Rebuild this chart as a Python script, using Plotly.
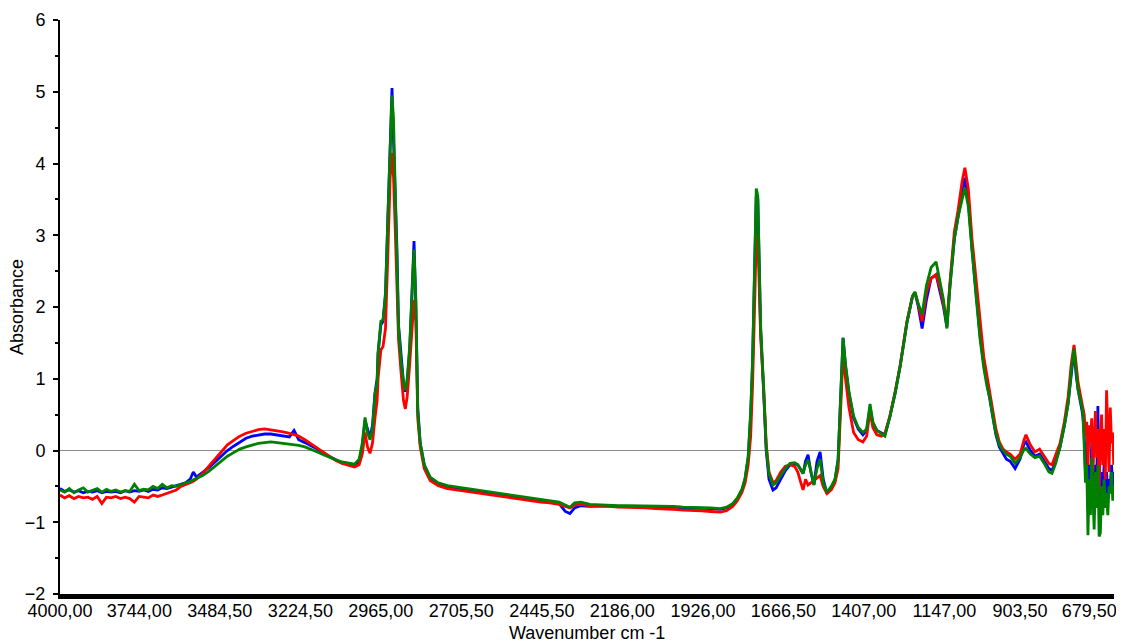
import plotly.graph_objects as go

wavenumber = [4000, 3985, 3970, 3955, 3940, 3925, 3910, 3895, 3880, 3865, 3850, 3835, 3820, 3805, 3790, 3775,
              3760, 3745, 3730, 3715, 3700, 3685, 3670, 3655, 3640, 3625, 3610, 3595, 3580, 3570, 3560, 3540,
              3520, 3500, 3480, 3460, 3440, 3420, 3400, 3380, 3360, 3340, 3320, 3300, 3280, 3260, 3245, 3230,
              3210, 3190, 3170, 3150, 3130, 3110, 3090, 3070, 3050, 3035, 3025, 3016, 3008, 3000, 2992, 2984,
              2977, 2974, 2965, 2958, 2950, 2942, 2935, 2929, 2924, 2918, 2913, 2908, 2900, 2892, 2886, 2880,
              2872, 2864, 2858, 2852, 2846, 2838, 2825, 2806, 2780, 2750, 2720, 2690, 2660, 2630, 2600, 2570,
              2540, 2510, 2480, 2450, 2420, 2390, 2370, 2355, 2340, 2320, 2290, 2260, 2230, 2200, 2170, 2140,
              2110, 2080, 2050, 2020, 1990, 1960, 1930, 1900, 1870, 1850, 1830, 1815, 1800, 1790, 1780, 1772,
              1766, 1760, 1754, 1749, 1744, 1740, 1730, 1722, 1713, 1700, 1690, 1675, 1660, 1645, 1630, 1620,
              1610, 1603, 1595, 1587, 1578, 1568, 1558, 1548, 1538, 1526, 1512, 1500, 1490, 1482, 1474, 1466,
              1455, 1440, 1425, 1410, 1398, 1387, 1378, 1365, 1350, 1339, 1323, 1306, 1290, 1268, 1250, 1242,
              1232, 1219, 1205, 1190, 1174, 1160, 1150, 1139, 1129, 1115, 1103, 1090, 1081, 1070, 1058, 1045,
              1032, 1020, 1010, 1000, 990, 981, 970, 958, 947, 935, 919, 903, 890, 884, 870, 855,
              840, 825, 810, 800, 788, 774, 760, 748, 738, 729, 722, 716, 703, 700, 696, 692,
              688, 684, 680, 676, 672, 668, 664, 660, 656, 652, 648, 644, 640, 636, 632, 628,
              624, 620, 616, 612, 608, 604, 601]

blue = [-0.53, -0.57, -0.55, -0.58, -0.56, -0.59, -0.57, -0.58, -0.56, -0.59, -0.57, -0.58, -0.57, -0.59, -0.56, -0.58,
        -0.56, -0.57, -0.55, -0.57, -0.54, -0.55, -0.52, -0.53, -0.51, -0.49, -0.47, -0.45, -0.40, -0.30, -0.37, -0.31,
        -0.24, -0.16, -0.08, 0.00, 0.06, 0.12, 0.17, 0.20, 0.22, 0.23, 0.23, 0.22, 0.20, 0.19, 0.28, 0.15,
        0.11, 0.07, 0.02, -0.04, -0.09, -0.13, -0.17, -0.19, -0.20, -0.16, 0.05, 0.42, 0.30, 0.18, 0.35, 0.80,
        1.00, 1.35, 1.75, 1.80, 2.20, 3.40, 4.40, 5.05, 4.30, 3.60, 2.80, 1.75, 1.30, 0.95, 0.82, 0.95,
        1.40, 2.40, 2.92, 2.00, 0.60, 0.10, -0.20, -0.38, -0.46, -0.50, -0.53, -0.55, -0.57, -0.59, -0.61, -0.63,
        -0.65, -0.67, -0.69, -0.70, -0.72, -0.74, -0.85, -0.88, -0.80, -0.77, -0.78, -0.77, -0.77, -0.78, -0.78, -0.78,
        -0.78, -0.79, -0.79, -0.79, -0.80, -0.80, -0.81, -0.81, -0.82, -0.80, -0.75, -0.67, -0.55, -0.40, -0.10, 0.50,
        1.20, 2.30, 3.55, 3.50, 2.40, 1.70, 0.80, 0.00, -0.40, -0.55, -0.52, -0.40, -0.28, -0.20, -0.18, -0.20,
        -0.28, -0.32, -0.15, -0.06, -0.30, -0.48, -0.15, -0.02, -0.40, -0.60, -0.52, -0.41, -0.13, 0.80, 1.57, 1.17,
        0.80, 0.45, 0.30, 0.22, 0.28, 0.60, 0.38, 0.28, 0.25, 0.22, 0.47, 0.80, 1.17, 1.78, 2.15, 2.20,
        2.02, 1.70, 2.10, 2.40, 2.45, 2.20, 2.00, 1.72, 2.30, 2.95, 3.26, 3.55, 3.80, 3.50, 2.80, 2.20,
        1.60, 1.20, 0.95, 0.70, 0.45, 0.22, 0.05, -0.05, -0.12, -0.15, -0.25, -0.12, 0.10, 0.12, 0.00, -0.08,
        -0.05, -0.15, -0.25, -0.28, -0.15, 0.05, 0.35, 0.66, 1.10, 1.40, 1.05, 0.85, 0.55, 0.45, 0.20, -0.30,
        0.10, -0.80, -0.20, -0.60, 0.10, -0.40, -0.90, -0.20, -0.50, 0.62, -0.70, -0.90, -0.30, -0.60, -0.20, -0.60,
        -0.30, -0.60, -0.40, -0.50, -0.20, -0.50, -0.30]

red = [-0.62, -0.66, -0.63, -0.67, -0.64, -0.66, -0.65, -0.68, -0.64, -0.74, -0.65, -0.66, -0.64, -0.67, -0.65, -0.67,
       -0.72, -0.64, -0.65, -0.66, -0.62, -0.64, -0.62, -0.60, -0.58, -0.55, -0.50, -0.48, -0.45, -0.43, -0.40, -0.32,
       -0.22, -0.12, -0.02, 0.08, 0.14, 0.20, 0.24, 0.27, 0.29, 0.30, 0.29, 0.28, 0.26, 0.24, 0.22, 0.20,
       0.15, 0.09, 0.03, -0.03, -0.09, -0.14, -0.18, -0.21, -0.23, -0.20, -0.05, 0.25, 0.05, -0.04, 0.10, 0.45,
       0.70, 1.00, 1.40, 1.45, 1.70, 2.80, 3.80, 4.15, 3.80, 3.00, 2.40, 1.55, 1.10, 0.70, 0.58, 0.75,
       1.20, 1.80, 2.10, 1.80, 0.45, 0.05, -0.25, -0.42, -0.49, -0.53, -0.55, -0.57, -0.58, -0.60, -0.62, -0.64,
       -0.66, -0.68, -0.70, -0.72, -0.73, -0.75, -0.78, -0.80, -0.76, -0.75, -0.77, -0.77, -0.78, -0.79, -0.79, -0.80,
       -0.80, -0.81, -0.81, -0.82, -0.83, -0.83, -0.84, -0.85, -0.86, -0.84, -0.78, -0.70, -0.58, -0.45, -0.20, 0.20,
       0.90, 1.90, 2.95, 3.00, 2.20, 1.60, 0.85, 0.10, -0.30, -0.45, -0.42, -0.30, -0.22, -0.20, -0.22, -0.30,
       -0.45, -0.55, -0.40, -0.48, -0.45, -0.42, -0.38, -0.35, -0.50, -0.60, -0.55, -0.45, -0.25, 0.60, 1.35, 1.00,
       0.60, 0.25, 0.15, 0.12, 0.20, 0.55, 0.32, 0.22, 0.20, 0.24, 0.48, 0.82, 1.18, 1.80, 2.15, 2.20,
       2.05, 1.80, 2.20, 2.40, 2.45, 2.25, 2.05, 1.80, 2.35, 3.05, 3.35, 3.75, 3.94, 3.65, 2.95, 2.35,
       1.75, 1.30, 1.05, 0.80, 0.55, 0.30, 0.12, 0.02, -0.02, -0.05, -0.12, -0.05, 0.15, 0.22, 0.08, -0.02,
       0.02, -0.08, -0.18, -0.20, -0.05, 0.10, 0.40, 0.75, 1.20, 1.47, 1.20, 0.95, 0.65, 0.60, 0.50, 0.20,
       0.40, -0.20, 0.35, 0.10, 0.45, -0.30, 0.20, 0.55, -0.10, 0.30, -0.60, 0.20, 0.50, -0.20, 0.30, -0.40,
       0.84, 0.10, -0.30, 0.60, 0.10, 0.25, -0.20]

green = [-0.55, -0.58, -0.53, -0.59, -0.55, -0.52, -0.58, -0.55, -0.53, -0.58, -0.54, -0.57, -0.55, -0.58, -0.56, -0.57,
         -0.47, -0.56, -0.54, -0.55, -0.50, -0.53, -0.47, -0.52, -0.49, -0.50, -0.47, -0.45, -0.43, -0.41, -0.40, -0.35,
         -0.29, -0.22, -0.15, -0.08, -0.03, 0.02, 0.05, 0.08, 0.10, 0.11, 0.12, 0.11, 0.10, 0.09, 0.08, 0.07,
         0.05, 0.02, -0.02, -0.06, -0.10, -0.13, -0.16, -0.18, -0.19, -0.12, 0.10, 0.46, 0.25, 0.15, 0.30, 0.78,
         0.95, 1.36, 1.80, 1.82, 2.15, 3.30, 4.30, 4.95, 4.60, 3.50, 2.90, 1.72, 1.25, 0.95, 0.84, 1.00,
         1.45, 2.35, 2.80, 2.10, 0.55, 0.10, -0.20, -0.37, -0.45, -0.49, -0.51, -0.53, -0.55, -0.57, -0.59, -0.61,
         -0.63, -0.65, -0.67, -0.69, -0.70, -0.72, -0.76, -0.79, -0.73, -0.72, -0.75, -0.76, -0.76, -0.77, -0.77, -0.77,
         -0.77, -0.78, -0.78, -0.78, -0.79, -0.79, -0.80, -0.80, -0.81, -0.79, -0.74, -0.66, -0.54, -0.38, -0.08, 0.55,
         1.25, 2.30, 3.65, 3.55, 2.40, 1.75, 0.85, 0.05, -0.32, -0.48, -0.45, -0.35, -0.25, -0.18, -0.17, -0.20,
         -0.28, -0.32, -0.20, -0.13, -0.28, -0.48, -0.25, -0.12, -0.45, -0.58, -0.50, -0.40, -0.13, 0.80, 1.57, 1.20,
         0.82, 0.48, 0.32, 0.25, 0.30, 0.65, 0.40, 0.28, 0.24, 0.20, 0.47, 0.80, 1.17, 1.78, 2.15, 2.21,
         2.05, 1.90, 2.30, 2.55, 2.63, 2.30, 2.10, 1.70, 2.30, 2.95, 3.26, 3.50, 3.66, 3.40, 2.75, 2.15,
         1.55, 1.15, 0.90, 0.72, 0.45, 0.24, 0.08, 0.00, -0.05, -0.08, -0.18, -0.10, 0.02, 0.03, -0.05, -0.10,
         -0.08, -0.18, -0.30, -0.32, -0.18, 0.05, 0.35, 0.65, 1.10, 1.42, 1.10, 0.85, 0.60, 0.50, 0.05, -0.45,
         -0.20, -1.18, -0.40, -0.90, -0.10, -0.70, -1.10, -0.30, -0.80, -0.20, -1.20, -1.15, -0.50, -0.90, -0.40, -0.80,
         -0.60, -0.90, -0.50, -0.60, -0.30, -0.70, -0.50]

x_tick_vals = [4000, 3744, 3484.5, 3224.5, 2965, 2705.5, 2445.5, 2186, 1926, 1666.5, 1407, 1147, 903.5, 679.5]
x_tick_text = ["4000,00", "3744,00", "3484,50", "3224,50", "2965,00", "2705,50", "2445,50",
               "2186,00", "1926,00", "1666,50", "1407,00", "1147,00", "903,50", "679,50"]

x_title = "Wavenumber cm -1"
y_title = "Absorbance"

series = [("blue", blue, "#0000FF"), ("red", red, "#FF0000"), ("green", green, "#008000")]

fig = go.Figure()
for name, vals, col in series:
    fig.add_trace(go.Scatter(x=wavenumber, y=vals, mode="lines", name=name,
                             line=dict(color=col, width=2.8), showlegend=False))

font_family = "Liberation Sans, Arial, sans-serif"
fig.update_layout(
    width=1116, height=635,
    margin=dict(l=52, r=10, t=12, b=49),
    paper_bgcolor="white", plot_bgcolor="white",
    font=dict(family=font_family, size=18, color="black"),
    xaxis=dict(
        range=[4000, 600], tickvals=x_tick_vals, ticktext=x_tick_text,
        showgrid=False, zeroline=False, showline=True, linecolor="black", linewidth=5,
        ticks="", tickfont=dict(size=18), automargin=False, ticklabelstandoff=-4,
    ),
    yaxis=dict(
        range=[-2, 6], dtick=1, tick0=0,
        showgrid=False, zeroline=True, zerolinecolor="#8c8c8c", zerolinewidth=1,
        showline=True, linecolor="black", linewidth=2,
        ticks="outside", ticklen=5, tickwidth=2, tickcolor="black",
        minor=dict(dtick=0.5, ticks="outside", ticklen=3, tickwidth=2, tickcolor="black"),
        tickfont=dict(size=18), automargin=False, ticklabelstandoff=4,
    ),
    annotations=[
        dict(text=x_title, xref="paper", yref="paper", x=0.5, y=0, yshift=-39,
             xanchor="center", yanchor="middle", showarrow=False, font=dict(size=18)),
        dict(text=y_title, xref="paper", yref="paper", x=0, y=0.5, xshift=-43,
             xanchor="center", yanchor="middle", textangle=-90, showarrow=False, font=dict(size=18)),
    ],
)

fig.write_html("out.html")
